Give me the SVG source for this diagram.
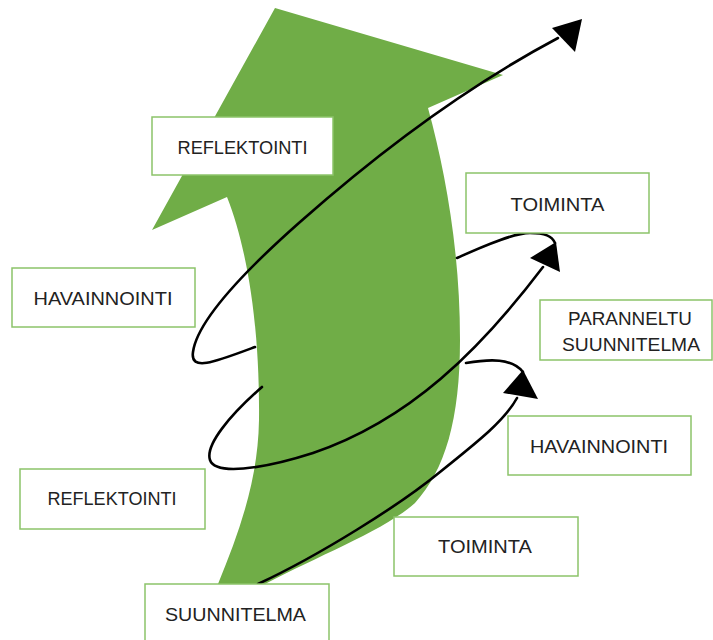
<svg xmlns="http://www.w3.org/2000/svg" width="713" height="640" viewBox="0 0 713 640">
<style>
.box rect{fill:#fff;stroke:#8cc36a;stroke-width:1.5}
.box text{font-family:"Liberation Sans",Arial,sans-serif;font-size:19px;fill:#222;text-anchor:middle}
.ln{fill:none;stroke:#000;stroke-width:2.6;stroke-linecap:round}
.ah{fill:#000}
</style>
<rect width="713" height="640" fill="#fff"/>
<g id="big-arrow">
<path fill="#70AD47" d="M218,590 L218,584 C240,530 258,480 259,420 C260,330 248,250 227,197 L152,230 L275,8 L503,75 L428,108 C445,170 460,250 460,340 C460,420 445,470 415,503 C385,530 320,555 265,584 L265,590 Z"/>
</g>
<g id="connectors">
<path class="ln" d="M255,347 C215,362 190,372 193,352 C197,322 240,275 300,222 C370,160 460,90 558,38"/>
<polygon class="ah" points="552,28 582,19 575,52"/>
<path class="ln" d="M457,258 C490,243 515,233 530,233 C545,233 552,236 555,243"/>
<path class="ln" d="M262,387 C230,415 205,445 210,460 C215,475 260,470 313,453 C410,420 480,350 543,267"/>
<polygon class="ah" points="530,258 560,272 556,242"/>
<path class="ln" d="M466,363 C490,359 512,358 523,372"/>
<path class="ln" d="M258,584 C320,555 400,505 440,472 C480,440 505,420 517,398"/>
<polygon class="ah" points="503,393 538,399 523,370"/>
</g>
<g id="n-reflektointi-top" class="box"><rect x="152" y="117" width="181" height="58"/><text x="242.5" y="154" textLength="130" lengthAdjust="spacingAndGlyphs">REFLEKTOINTI</text></g>
<g id="n-toiminta-top" class="box"><rect x="466" y="173" width="183" height="60"/><text x="557.5" y="211" textLength="94" lengthAdjust="spacingAndGlyphs">TOIMINTA</text></g>
<g id="n-havainnointi-left" class="box"><rect x="12" y="268" width="183" height="59"/><text x="103" y="305" textLength="139" lengthAdjust="spacingAndGlyphs">HAVAINNOINTI</text></g>
<g id="n-paranneltu" class="box"><rect x="540" y="300" width="172" height="60"/><text x="630" y="325" textLength="124" lengthAdjust="spacingAndGlyphs">PARANNELTU</text><text x="631" y="351" textLength="138" lengthAdjust="spacingAndGlyphs">SUUNNITELMA</text></g>
<g id="n-havainnointi-right" class="box"><rect x="508" y="416" width="183" height="59"/><text x="599" y="453" textLength="138" lengthAdjust="spacingAndGlyphs">HAVAINNOINTI</text></g>
<g id="n-reflektointi-left" class="box"><rect x="20" y="469" width="185" height="60"/><text x="112" y="505" textLength="129" lengthAdjust="spacingAndGlyphs">REFLEKTOINTI</text></g>
<g id="n-toiminta-bottom" class="box"><rect x="394" y="517" width="184" height="59"/><text x="485" y="553" textLength="94" lengthAdjust="spacingAndGlyphs">TOIMINTA</text></g>
<g id="n-suunnitelma" class="box"><rect x="145" y="584" width="184" height="70"/><text x="235.5" y="621" textLength="141" lengthAdjust="spacingAndGlyphs">SUUNNITELMA</text></g>
</svg>
